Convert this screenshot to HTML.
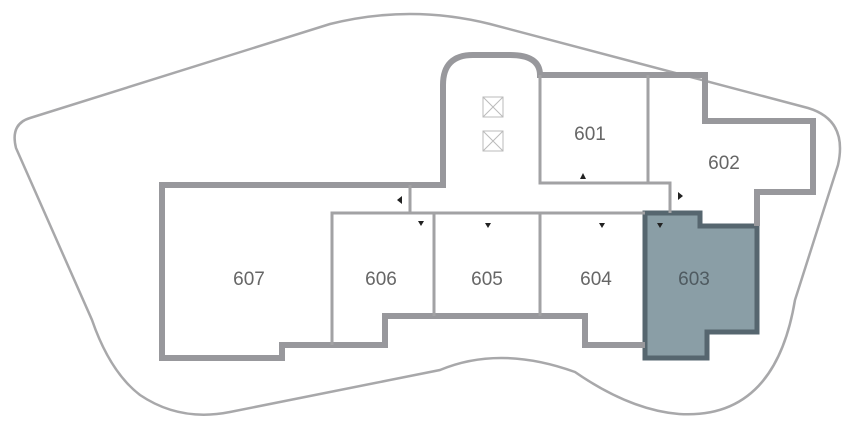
<!DOCTYPE html>
<html><head><meta charset="utf-8"><style>
html,body{margin:0;padding:0;background:#fff;}
svg{display:block;}
text{font-family:"Liberation Sans",sans-serif;font-size:19px;fill:#666;text-anchor:middle;}
</style></head><body>
<svg width="862" height="429" viewBox="0 0 862 429">
<path d="M30,118 L330,24 Q410,4 490,24 L808,108 Q848,120 838,165 L795,300 Q775,420 679,414 Q630,410 575,372 Q500,345 440,370 L230,412 Q180,422 140,395 Q110,372 92,320 L16,148 Q10,124 30,118 Z" fill="none" stroke="#a8a8aa" stroke-width="2.5"/>
<polygon points="645,213 700,213 700,226 757,226 757,332 707,332 707,358 645,358" fill="#8a9ea6" stroke="#56666f" stroke-width="5"/>
<path d="M645,345 L585,345 L585,316 L385,316 L385,345 L282,345 L282,358 L162,358 L162,185 L443,185 L443,85 Q443,55 473,55 L510,55 Q540,55 540,75 L705,75 L705,121 L813,121 L813,192 L757,192 L757,226" fill="none" stroke="#98989c" stroke-width="6"/>
<g fill="none" stroke="#a2a2a4" stroke-width="3">
<path d="M332,345 L332,213 L645,213"/>
<path d="M434,213 L434,316 M540,213 L540,316 M410,185 L410,213"/>
<path d="M540,75 L540,183 L670,183 L670,213 M648,75 L648,183"/>
</g>
<g fill="none" stroke="#bbb" stroke-width="1">
<rect x="483" y="97" width="20" height="20"/><path d="M483,97 L503,117 M503,97 L483,117"/>
<rect x="483" y="131" width="20" height="20"/><path d="M483,131 L503,151 M503,131 L483,151"/>
</g>
<g fill="#222">
<polygon points="580,179 586,179 583,173"/>
<polygon points="397,200 402,196 402,204"/>
<polygon points="683,196 678,192 678,200"/>
<polygon points="418,221 424,221 421,226"/>
<polygon points="485,223 491,223 488,228"/>
<polygon points="599,223 605,223 602,228"/>
<polygon points="657,223 663,223 660,228"/>
</g>
<text x="590" y="140">601</text>
<text x="724" y="169">602</text>
<text x="249" y="285">607</text>
<text x="381" y="285">606</text>
<text x="487" y="285">605</text>
<text x="596" y="285">604</text>
<text x="694" y="285" style="fill:#4f5a60">603</text>
</svg>
</body></html>
